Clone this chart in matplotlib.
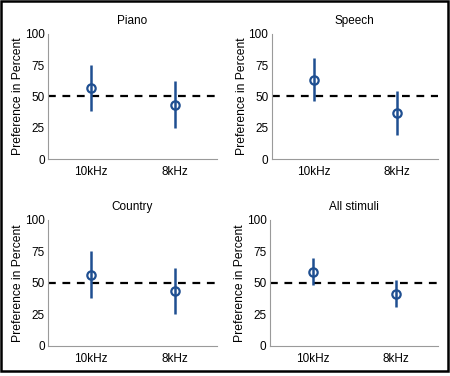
import matplotlib
matplotlib.use('Agg')
import matplotlib.pyplot as plt
from matplotlib.patches import Rectangle

plt.rcParams['font.family'] = ['Liberation Sans', 'DejaVu Sans']

titles = ["Piano", "Speech", "Country", "All stimuli"]
conditions = ["10kHz", "8kHz"]
# mean, lower and upper end of each error bar (percent)
means = [[57, 43], [63.5, 36.5], [56.5, 43.5], [59, 41.5]]
lower = [[38, 25], [46, 19], [38, 25], [48, 31]]
upper = [[75, 62], [81, 54.5], [75, 61.5], [70, 52]]
yticks = [0, 25, 50, 75, 100]

blue = '#1f4f91'
spine_col = '#9a9a9a'

fig = plt.figure(figsize=(4.5, 3.76), dpi=100)
positions = [[0.107, 0.577, 0.375, 0.333],
             [0.604, 0.577, 0.369, 0.333],
             [0.107, 0.080, 0.375, 0.335],
             [0.600, 0.080, 0.373, 0.335]]

for i, pos in enumerate(positions):
    ax = fig.add_axes(pos)
    x = [1, 2]
    err = [[m - l for m, l in zip(means[i], lower[i])],
           [u - m for m, u in zip(means[i], upper[i])]]
    ax.axhline(50, color='black', linestyle=(0, (3.5, 3)), linewidth=1.6, zorder=1)
    ax.errorbar(x, means[i], yerr=err, fmt='o', color=blue, ecolor=blue,
                elinewidth=1.8, capsize=0, markersize=6, markerfacecolor='none',
                markeredgewidth=1.6, zorder=3)
    ax.set_xlim(0.49, 2.5)
    ax.set_ylim(0, 100)
    ax.set_xticks(x)
    ax.set_xticklabels(conditions)
    ax.set_yticks(yticks)
    ax.tick_params(axis='y', length=0, labelsize=8.5, pad=2.5)
    ax.tick_params(axis='x', length=0, labelsize=8.5, pad=5)
    ax.set_title(titles[i], fontsize=8.5, pad=7)
    ax.set_ylabel("Preference in Percent", fontsize=8.75, labelpad=0.5)
    for s in ['top', 'right']:
        ax.spines[s].set_visible(False)
    for s in ['left', 'bottom']:
        ax.spines[s].set_color(spine_col)
        ax.spines[s].set_linewidth(0.8)

# black frame around the whole figure
fig.patches.append(Rectangle((0.002, 0.012), 0.994, 0.985, transform=fig.transFigure,
                             fill=False, edgecolor='black', linewidth=1.8))

plt.savefig('out.png', dpi=100)
